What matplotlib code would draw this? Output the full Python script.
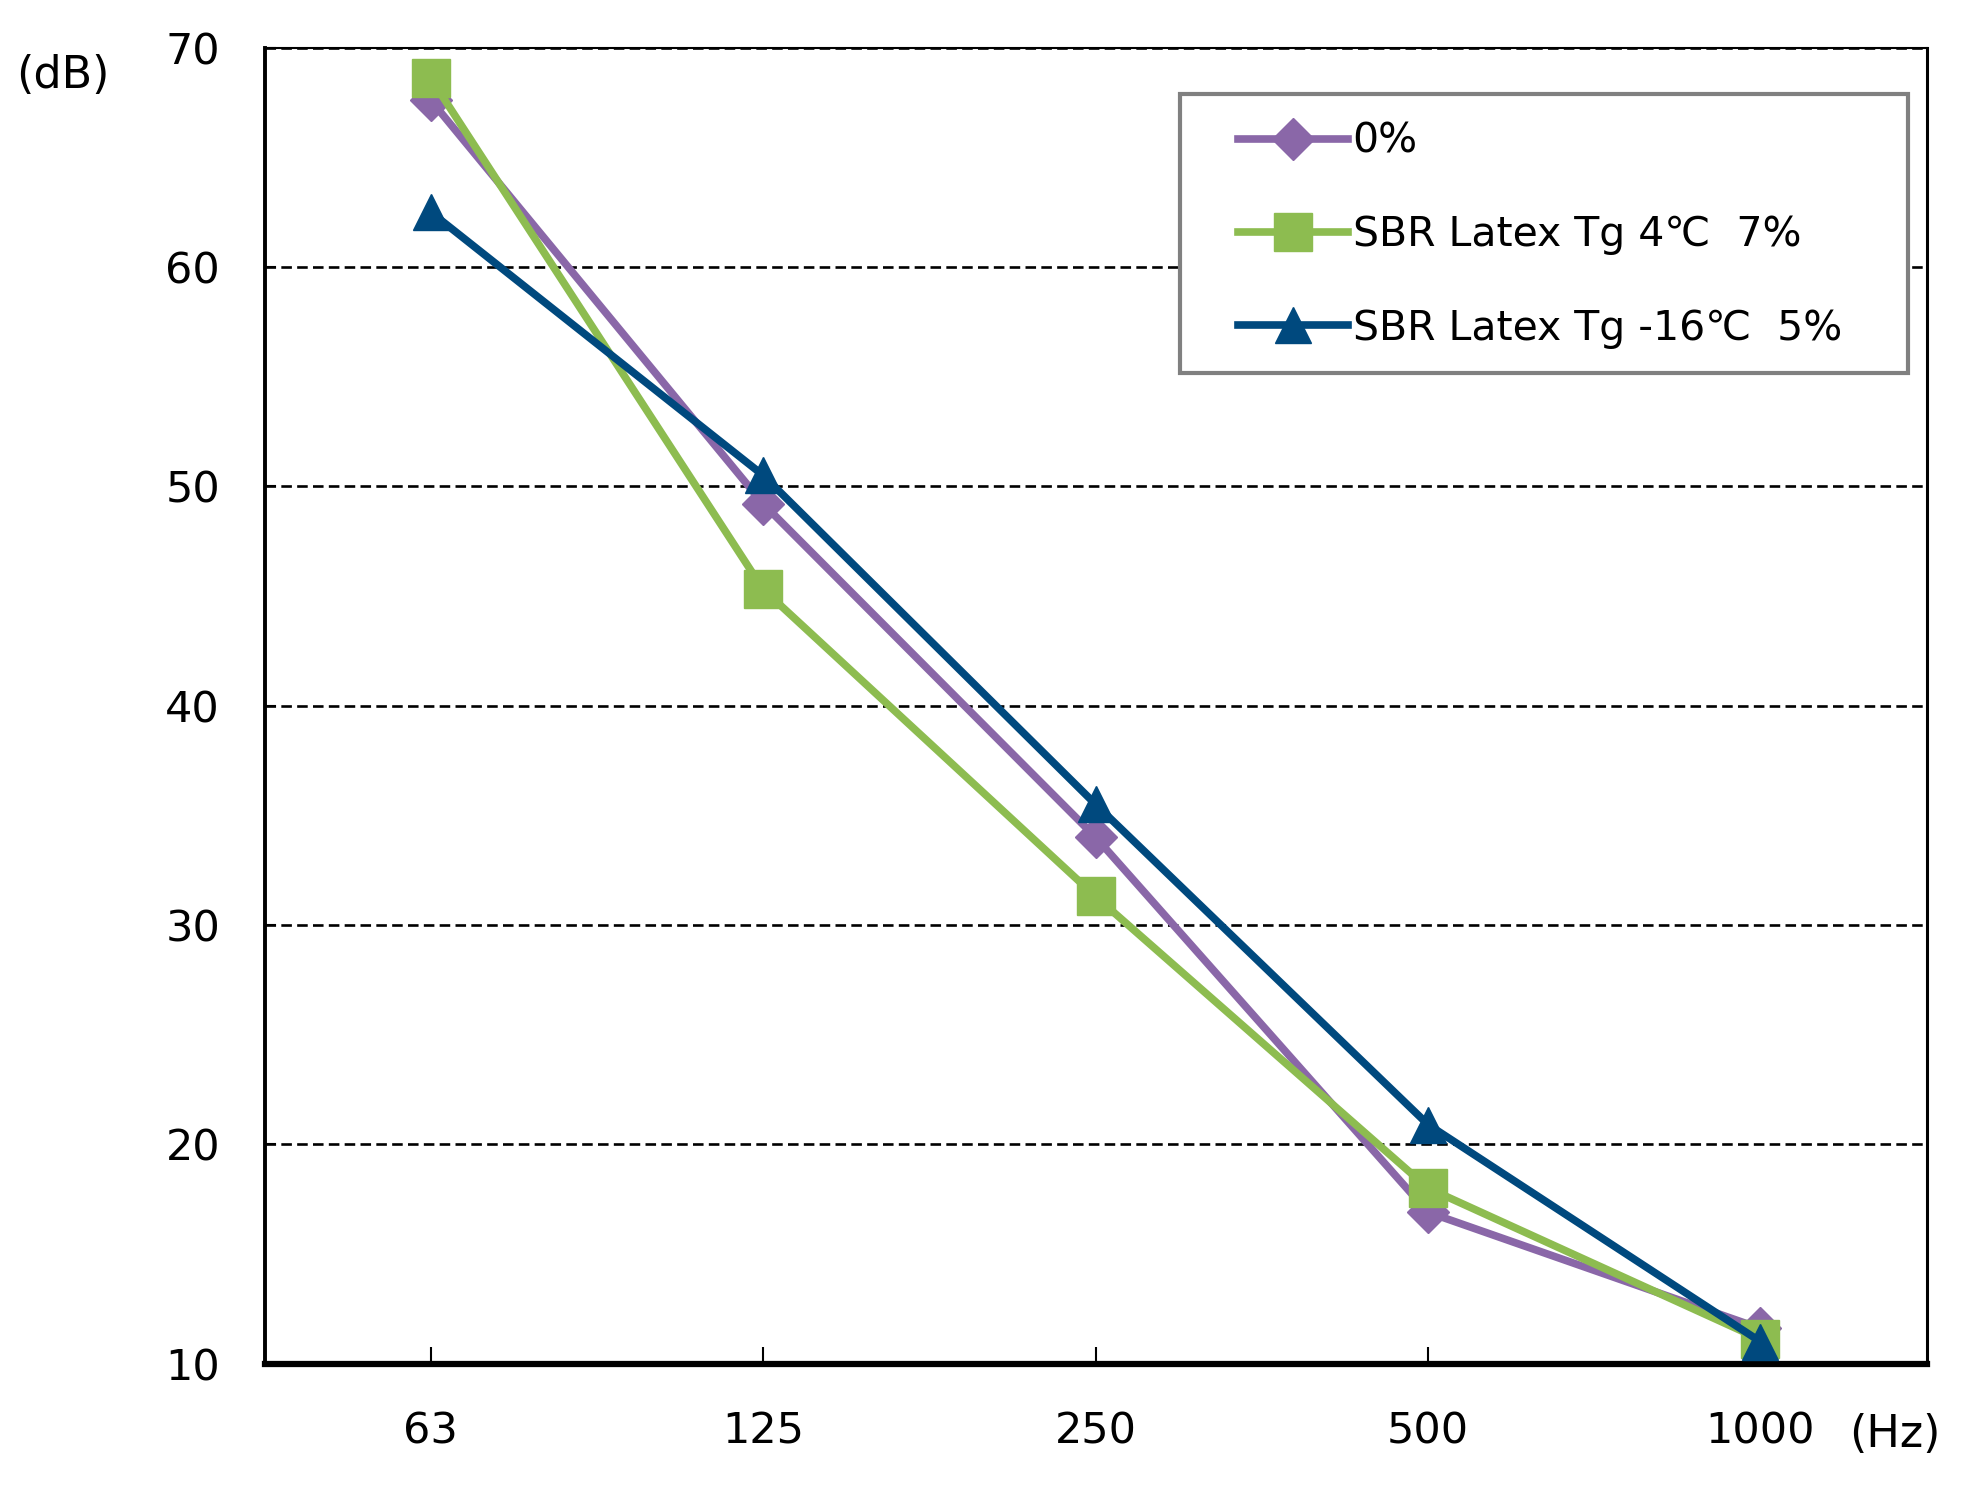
import matplotlib
matplotlib.use("Agg")
import matplotlib.pyplot as plt
from matplotlib.patches import Rectangle

freqs = ["63", "125", "250", "500", "1000"]
s0 = [67.6, 49.2, 34.0, 16.9, 11.6]
s_tg4 = [68.6, 45.3, 31.3, 18.0, 11.1]
s_tgm16 = [62.5, 50.5, 35.5, 20.9, 11.0]
labels = ["0%", "SBR Latex Tg 4\u2103  7%", "SBR Latex Tg -16\u2103  5%"]
yticks = [10, 20, 30, 40, 50, 60, 70]

plt.rcParams['font.family'] = ['DejaVu Sans']

fig = plt.figure(figsize=(19.74, 14.87), dpi=100)
ax = fig.add_axes([0.134, 0.083, 0.842, 0.885])

x = list(range(len(freqs)))
ax.plot(x, s0, color="#8A67A8", lw=5.5, marker="D", markersize=21, label=labels[0], zorder=3)
ax.plot(x, s_tg4, color="#8DBC50", lw=5.5, marker="s", markersize=27, label=labels[1], zorder=4)
ax.plot(x, s_tgm16, color="#00497E", lw=5.5, marker="^", markersize=26, label=labels[2], zorder=5)

ax.set_xlim(-0.5, 4.5)
ax.set_ylim(10, 70)
ax.set_xticks(x)
ax.set_xticklabels(freqs)
ax.set_yticks(yticks)
ax.yaxis.grid(True, color="black", linestyle=(0, (4, 2)), lw=1.9)
ax.set_axisbelow(True)

ax.tick_params(axis='both', direction='in', labelsize=31, colors='black')
ax.tick_params(axis='x', length=12, width=1.5, pad=34)
ax.tick_params(axis='y', length=8, width=1.5, pad=32)

for side, w in [("left", 2.8), ("right", 2.2), ("bottom", 4.5), ("top", 1.5)]:
    ax.spines[side].set_linewidth(w)
    ax.spines[side].set_color("black")

# legend frame
box = Rectangle((0.551, 0.7531), 0.9886 - 0.551, 0.9646 - 0.7531, transform=ax.transAxes,
                facecolor="white", edgecolor="#808080", lw=3, zorder=6)
ax.add_patch(box)

leg = ax.legend(loc="center left", bbox_to_anchor=(0.5856, 0.8574),
                fontsize=29.5, frameon=False, borderpad=0, labelspacing=1.3,
                handlelength=2.7, handletextpad=0.1, borderaxespad=0)
leg.set_zorder(7)

fig.text(0.032, 0.949, "(dB)", fontsize=32, ha="center", va="center")
fig.text(0.960, 0.035, "(Hz)", fontsize=32, ha="center", va="center")

fig.savefig("out.png", dpi=100)
